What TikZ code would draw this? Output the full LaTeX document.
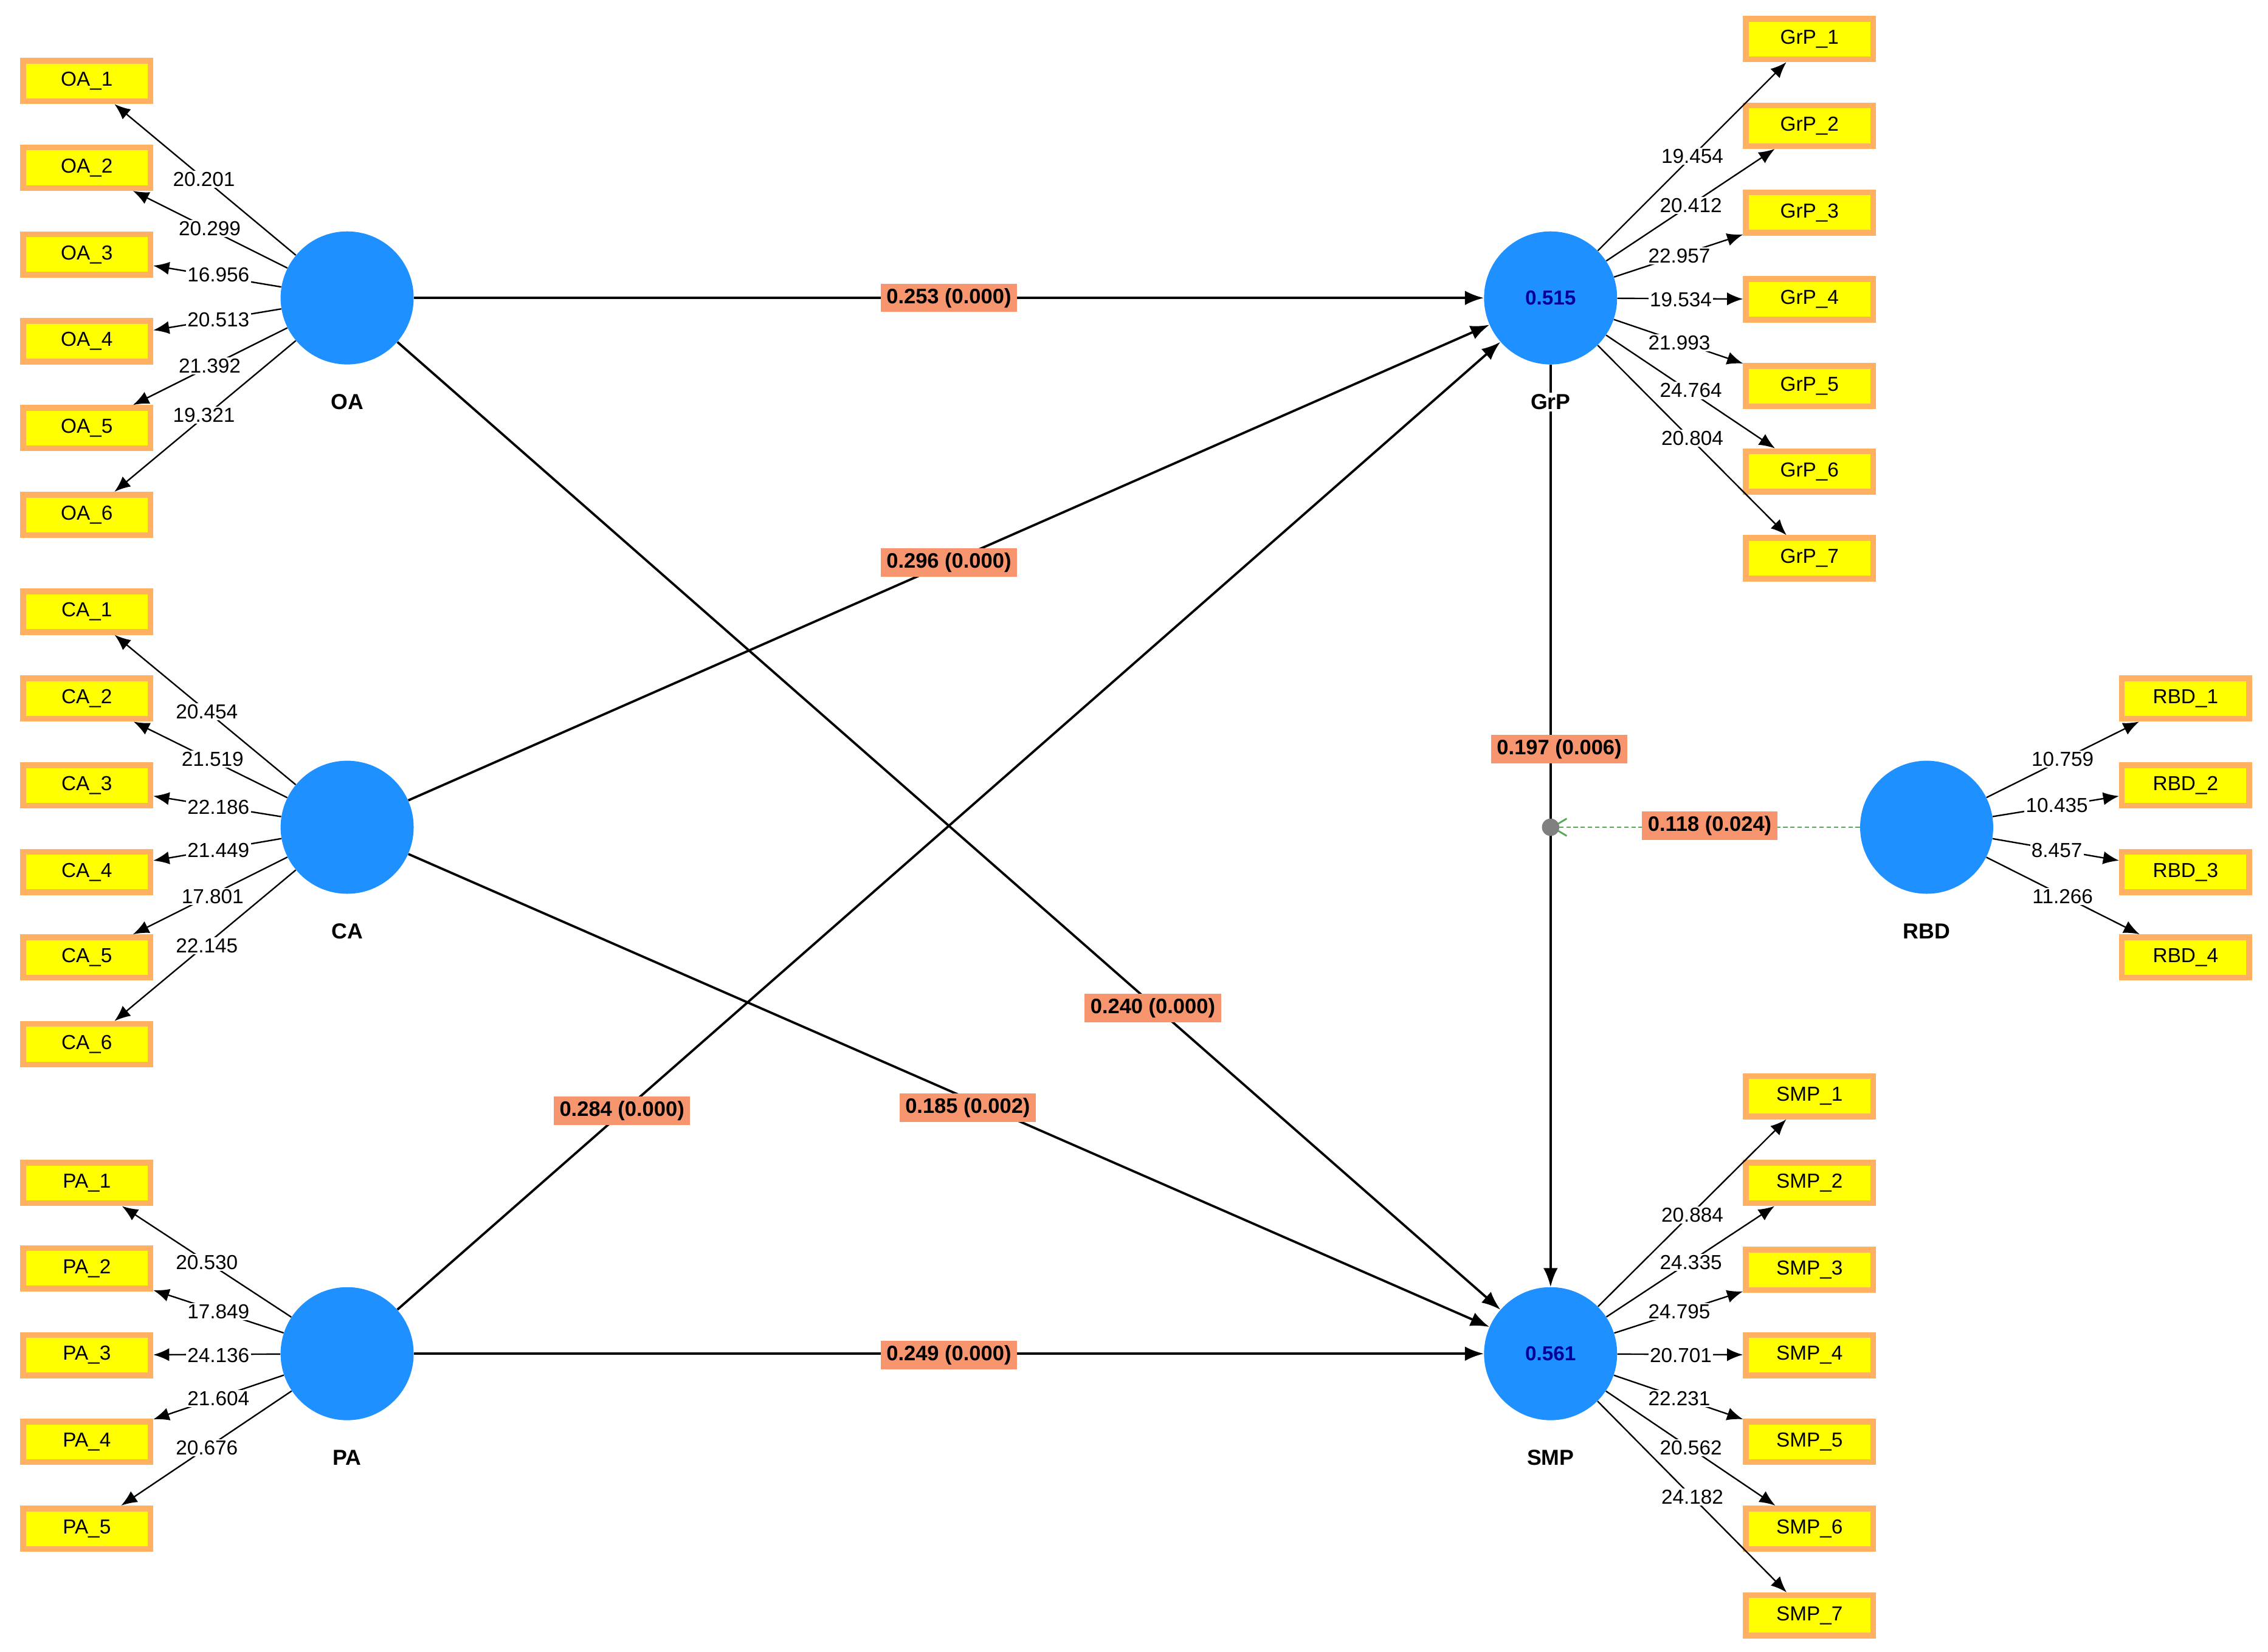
\documentclass[tikz,border=0pt]{standalone}
\usepackage{fontspec}
\setmainfont{Liberation Sans}
\usetikzlibrary{arrows.meta}
\definecolor{lvblue}{RGB}{30,144,255}
\definecolor{boxor}{RGB}{255,176,96}
\definecolor{boxy}{RGB}{255,255,0}
\definecolor{pathlab}{RGB}{247,150,110}
\begin{document}
\begin{tikzpicture}[x=1pt,y=-1pt,
 lv/.style={circle,fill=lvblue,minimum size=92pt,inner sep=0pt,font=\bfseries\fontsize{14}{16}\selectfont,text=blue!60!black},
 lvname/.style={fill=white,inner sep=1pt,font=\bfseries\fontsize{15}{17}\selectfont},
 ind/.style={rectangle,fill=boxy,draw=boxor,line width=4pt,minimum width=88pt,minimum height=28pt,inner sep=0pt,font=\fontsize{14}{16}\selectfont},
 ld/.style={fill=white,inner sep=1pt,font=\fontsize{14}{16}\selectfont},
 pl/.style={fill=pathlab,inner xsep=4pt,inner ysep=3pt,font=\bfseries\fontsize{14.5}{16}\selectfont},
 arr/.style={-{Latex[length=11pt,width=9pt]},line width=1pt},
 parr/.style={-{Latex[length=13pt,width=10pt]},line width=1.6pt}]
\useasboundingbox[fill=white] (0,0) rectangle (1568,1142);
% latent variables
\node[lv] (OA) at (240,206) {};
\node[lv] (CA) at (240,572) {};
\node[lv] (PA) at (240,936) {};
\node[lv] (GrP) at (1072,206) {0.515};
\node[lv] (SMP) at (1072,936) {0.561};
\node[lv] (RBD) at (1332,572) {};
% indicators
\foreach \i/\y in {1/56,2/116,3/176,4/236,5/296,6/356} \node[ind] (OA_\i) at (60,\y) {OA\_\i};
\foreach \i/\y in {1/423,2/483,3/543,4/603,5/662,6/722} \node[ind] (CA_\i) at (60,\y) {CA\_\i};
\foreach \i/\y in {1/818,2/877,3/937,4/997,5/1057} \node[ind] (PA_\i) at (60,\y) {PA\_\i};
\foreach \i/\y in {1/27,2/87,3/147,4/207,5/267,6/326,7/386} \node[ind] (GrP_\i) at (1251,\y) {GrP\_\i};
\foreach \i/\y in {1/758,2/818,3/878,4/937,5/997,6/1057,7/1117} \node[ind] (SMP_\i) at (1251,\y) {SMP\_\i};
\foreach \i/\y in {1/483,2/543,3/603,4/662} \node[ind] (RBD_\i) at (1511,\y) {RBD\_\i};
% outer arrows
\foreach \i in {1,...,6} \draw[arr] (OA) -- (OA_\i);
\foreach \i in {1,...,6} \draw[arr] (CA) -- (CA_\i);
\foreach \i in {1,...,5} \draw[arr] (PA) -- (PA_\i);
\foreach \i in {1,...,7} \draw[arr] (GrP) -- (GrP_\i);
\foreach \i in {1,...,7} \draw[arr] (SMP) -- (SMP_\i);
\foreach \i in {1,...,4} \draw[arr] (RBD) -- (RBD_\i);
% loadings
\foreach \t/\x/\y in {20.201/141/124,20.299/145/158,16.956/151/190,20.513/151/221,21.392/145/253,19.321/141/287,
 20.454/143/492,21.519/147/525,22.186/151/558,21.449/151/588,17.801/147/620,22.145/143/654,
 20.530/143/873,17.849/151/907,24.136/151/937,21.604/151/967,20.676/143/1001,
 19.454/1170/108,20.412/1169/142,22.957/1161/177,19.534/1162/207,21.993/1161/237,24.764/1169/270,20.804/1170/303,
 20.884/1170/840,24.335/1169/873,24.795/1161/907,20.701/1162/937,22.231/1161/967,20.562/1169/1001,24.182/1170/1035,
 10.759/1426/525,10.435/1422/557,8.457/1422/588,11.266/1426/620}
 \node[ld] at (\x,\y) {\t};
% structural paths
\draw[parr] (OA) -- (GrP);
\draw[parr] (OA) -- (SMP);
\draw[parr] (CA) -- (GrP);
\draw[parr] (CA) -- (SMP);
\draw[parr] (PA) -- (GrP);
\draw[parr] (PA) -- (SMP);
\draw[parr] (GrP) -- (SMP);
\coordinate (mod) at (1072,572);
\draw[densely dashed,gray!70!green,line width=1.2pt,-{Straight Barb[length=10pt,width=12pt]}] (RBD) -- (mod);
\fill[gray] (mod) circle (6pt);
% names
\node[lvname] at (240,278) {OA};
\node[lvname] at (240,644) {CA};
\node[lvname] at (240,1008) {PA};
\node[lvname] at (1072,278) {GrP};
\node[lvname] at (1072,1008) {SMP};
\node[lvname] at (1332,644) {RBD};
\node[pl] at (656,206) {0.253 (0.000)};
\node[pl] at (656,389) {0.296 (0.000)};
\node[pl] at (430,768) {0.284 (0.000)};
\node[pl] at (797,697) {0.240 (0.000)};
\node[pl] at (669,766) {0.185 (0.002)};
\node[pl] at (656,937) {0.249 (0.000)};
\node[pl] at (1078,518) {0.197 (0.006)};
\node[pl] at (1182,571) {0.118 (0.024)};
\end{tikzpicture}
\end{document}
